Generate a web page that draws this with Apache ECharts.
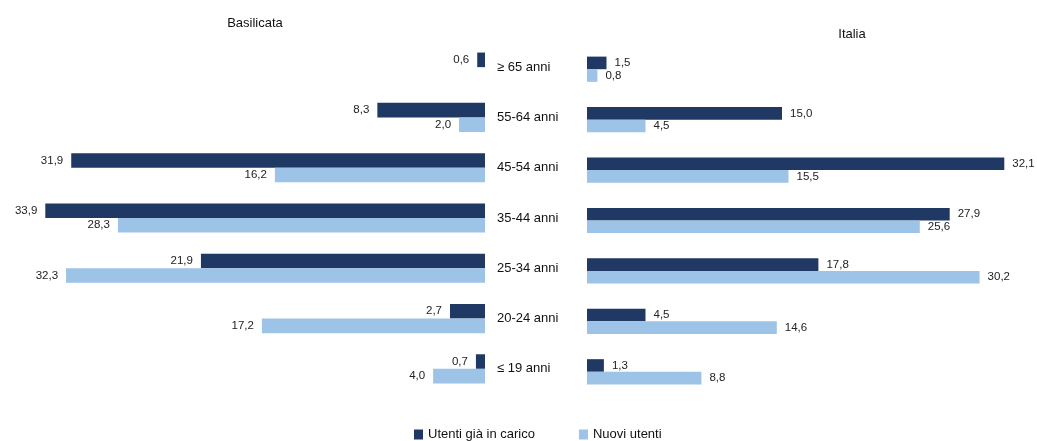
<!DOCTYPE html>
<html><head><meta charset="utf-8">
<script src="https://cdn.jsdelivr.net/npm/echarts@6/dist/echarts.min.js"></script>
<style>html,body{margin:0;padding:0;background:#fff}#c{width:1037px;height:441px}</style>
</head><body><div id="c"></div>
<script>
const categories = ['≥ 65 anni','55-64 anni','45-54 anni','35-44 anni','25-34 anni','20-24 anni','≤ 19 anni'];
const basilicataGiaInCarico = [0.6, 8.3, 31.9, 33.9, 21.9, 2.7, 0.7];
const basilicataNuovi = [null, 2.0, 16.2, 28.3, 32.3, 17.2, 4.0];
const italiaGiaInCarico = [1.5, 15.0, 32.1, 27.9, 17.8, 4.5, 1.3];
const italiaNuovi = [0.8, 4.5, 15.5, 25.6, 30.2, 14.6, 8.8];
const seriesNames = ['Utenti già in carico', 'Nuovi utenti'];

const DARK = '#1f3864', LIGHT = '#9dc3e6';
const FONT = 'Liberation Sans';
const fmt = p => p.value == null ? '' : p.value.toFixed(1).replace('.', ',');
const lbl = pos => ({show: true, position: pos, distance: 8, formatter: fmt, color: '#222', fontSize: 11.5, fontFamily: FONT});

const chart = echarts.init(document.getElementById('c'));
chart.setOption({
  animation: false,
  textStyle: {fontFamily: FONT},
  title: [
    {text: 'Basilicata', left: 250, top: 12, textAlign: 'center', textStyle: {fontSize: 13, fontWeight: 'normal', color: '#111', fontFamily: FONT}},
    {text: 'Italia', left: 847, top: 23, textAlign: 'center', textStyle: {fontSize: 13, fontWeight: 'normal', color: '#111', fontFamily: FONT}}
  ],
  legend: {
    data: seriesNames, top: 428, left: 414, padding: 0, itemWidth: 9, itemHeight: 10, itemGap: 44,
    icon: 'rect', textStyle: {fontSize: 13, color: '#111', fontFamily: FONT}
  },
  grid: [
    {left: 44, width: 441, top: 42, height: 352},
    {left: 587, width: 442, top: 44, height: 353}
  ],
  xAxis: [
    {gridIndex: 0, type: 'value', min: 0, max: 34, inverse: true, show: false},
    {gridIndex: 1, type: 'value', min: 0, max: 34, show: false}
  ],
  yAxis: [
    {gridIndex: 0, type: 'category', data: categories, inverse: true, position: 'right',
     axisLine: {show: false}, axisTick: {show: false},
     axisLabel: {margin: 12, align: 'left', fontSize: 13, color: '#111', fontFamily: FONT}},
    {gridIndex: 1, type: 'category', data: categories, inverse: true,
     axisLine: {show: false}, axisTick: {show: false}, axisLabel: {show: false}}
  ],
  series: [
    {name: seriesNames[0], type: 'bar', xAxisIndex: 0, yAxisIndex: 0, data: basilicataGiaInCarico,
     itemStyle: {color: DARK}, barCategoryGap: '42%', barGap: '0%', label: lbl('left')},
    {name: seriesNames[1], type: 'bar', xAxisIndex: 0, yAxisIndex: 0, data: basilicataNuovi,
     itemStyle: {color: LIGHT}, barCategoryGap: '42%', barGap: '0%', label: lbl('left')},
    {name: seriesNames[0], type: 'bar', xAxisIndex: 1, yAxisIndex: 1, data: italiaGiaInCarico,
     itemStyle: {color: DARK}, barCategoryGap: '50%', barGap: '0%', label: lbl('right')},
    {name: seriesNames[1], type: 'bar', xAxisIndex: 1, yAxisIndex: 1, data: italiaNuovi,
     itemStyle: {color: LIGHT}, barCategoryGap: '50%', barGap: '0%', label: lbl('right')}
  ]
});
</script></body></html>
